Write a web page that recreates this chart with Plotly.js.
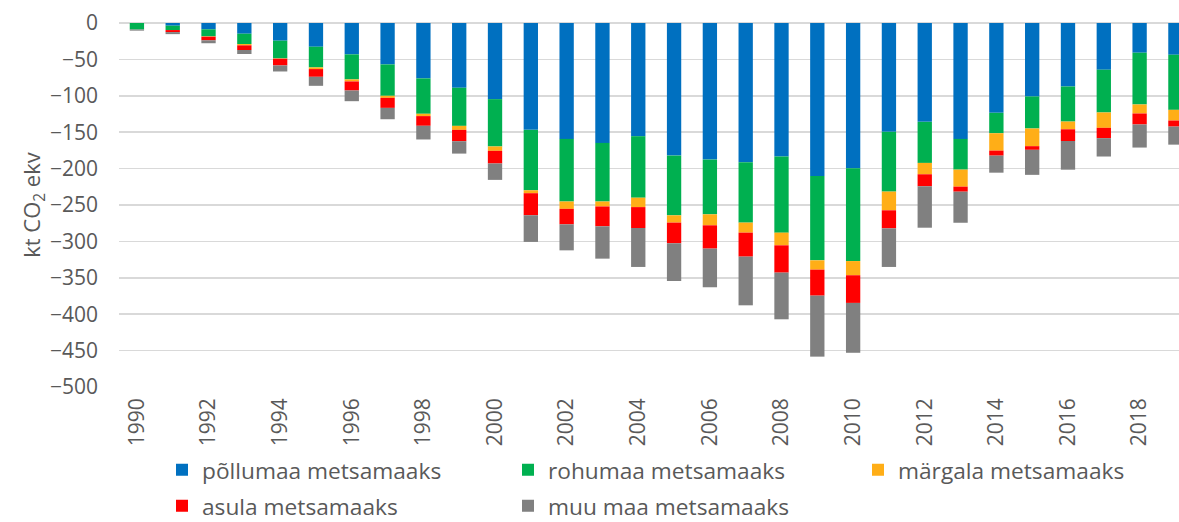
<!DOCTYPE html>
<html>
<head>
<meta charset="utf-8">
<script src="https://cdn.plot.ly/plotly-3.0.1.min.js"></script>
<style>
  html, body { margin: 0; padding: 0; background: #fff; }
  #graph { width: 1179px; height: 522px; }
</style>
</head>
<body>
<div id="graph"></div>
<script>
// aastad ja netoeemaldused (kt CO2 ekv), loetud jooniselt
const years = [1990, 1991, 1992, 1993, 1994, 1995, 1996, 1997, 1998, 1999,
               2000, 2001, 2002, 2003, 2004, 2005, 2006, 2007, 2008, 2009,
               2010, 2011, 2012, 2013, 2014, 2015, 2016, 2017, 2018, 2019];

const pollumaa = [0, -3.7, -8.7, -14.7, -24.3, -32.6, -43.1, -56.9, -76.1, -89,
                  -104.6, -146.8, -159.2, -164.7, -155.5, -182.1, -187.6, -191.3, -183.5, -210.1,
                  -199.5, -149.5, -135.8, -159.2, -123.4, -100.9, -87.2, -64.2, -40.8, -43.6];
const rohumaa = [-9, -6, -9.6, -14.2, -24.3, -28.4, -34.4, -43.1, -48.6, -52.3,
                 -65, -83, -86, -80.5, -84.5, -82.1, -75.2, -82.9, -104.5, -115.9,
                 -127.5, -82.1, -56.4, -42.2, -28, -44, -48.2, -58.7, -71.1, -75.7];
const margala = [0, 0, -0.5, -1.8, -0.5, -2.3, -2.8, -2.8, -3.2, -5.5,
                 -6, -4, -10.1, -6.8, -12.9, -10, -15.1, -13.8, -17.4, -12.8,
                 -19.5, -25.7, -15.6, -23.4, -23.9, -24.3, -10.6, -21.1, -12.4, -14.7];
const asula = [0, -2.8, -5, -6.4, -9.2, -10.6, -12.4, -13.8, -13.3, -15.6,
               -17.4, -30.3, -21.3, -27.3, -28.7, -28.4, -32, -32.9, -37.5, -35.7,
               -38, -24.8, -16.5, -6.9, -6.9, -5, -16.1, -14.2, -15.1, -8.3];
const muuMaa = [-1.5, -2.8, -4, -5.5, -8.3, -12.4, -14.7, -15.6, -18.8, -17,
                -22.5, -36.6, -35.7, -44.4, -53.5, -51.8, -53.1, -66.9, -64.1, -83.8,
                -68.5, -53, -56.9, -42.7, -23.4, -34.4, -39.4, -25.2, -31.7, -24.8];

const seriesNames = ['põllumaa metsamaaks', 'rohumaa metsamaaks', 'märgala metsamaaks',
                     'asula metsamaaks', 'muu maa metsamaaks'];
const seriesData = [pollumaa, rohumaa, margala, asula, muuMaa];
const seriesColors = ['#0070C0', '#00B050', '#FFAE17', '#FF0000', '#808080'];

const FONT = '"Open Sans", "Noto Sans", sans-serif';
const GREY = '#595959';

// plot area in pixels, used to place the legends
const plotL = 119, plotW = 1060, plotT = 23, plotH = 364;
const fx = px => (px - plotL) / plotW;
const fy = py => (plotT + plotH - py) / plotH;

// legend position of every entry (left edge, vertical middle)
const legendPos = [[162, 470], [508, 470], [858, 470], [162, 506], [508, 506]];

let traces = seriesData.map((vals, i) => ({
    type: 'bar',
    x: years,
    y: vals,
    name: seriesNames[i],
    marker: { color: seriesColors[i], line: { width: 0 } },
    legend: i === 0 ? 'legend' : 'legend' + (i + 1),
    hoverinfo: 'x+y+name'
}));

let myLayout = {
    width: 1179,
    height: 522,
    margin: { l: plotL, r: 1179 - plotL - plotW, t: plotT, b: 522 - plotT - plotH, autoexpand: false },
    paper_bgcolor: '#fff',
    plot_bgcolor: '#fff',
    barmode: 'relative',
    bargap: 0.6,
    font: { family: FONT, color: GREY, size: 21 },
    xaxis: {
        range: [1989.5, 2019.1],
        tickvals: years.filter((y, i) => i % 2 === 0),
        tickangle: -90,
        showgrid: false,
        zeroline: false,
        showline: false,
        ticks: '',
        ticklabelstandoff: 6,
        tickfont: { family: FONT, size: 21, color: GREY }
    },
    yaxis: {
        range: [-500, 0],
        dtick: 50,
        showgrid: true,
        gridcolor: '#D9D9D9',
        gridwidth: 1.5,
        zeroline: true,
        zerolinecolor: '#D9D9D9',
        zerolinewidth: 1.5,
        showline: false,
        ticks: '',
        ticklabelstandoff: 20,
        tickfont: { family: FONT, size: 21, color: GREY },
        title: { text: 'kt CO<sub>2</sub> ekv', standoff: 0, font: { family: FONT, size: 22, color: GREY } }
    },
    showlegend: true
};

legendPos.forEach((p, i) => {
    const key = i === 0 ? 'legend' : 'legend' + (i + 1);
    myLayout[key] = {
        x: fx(p[0]),
        y: fy(p[1]),
        xanchor: 'left',
        yanchor: 'middle',
        orientation: 'h',
        bgcolor: 'rgba(0,0,0,0)',
        borderwidth: 0,
        font: { family: FONT, size: 22.7, color: GREY }
    };
});

Plotly.newPlot('graph', traces, myLayout, { displayModeBar: false, staticPlot: true });
</script>
</body>
</html>
